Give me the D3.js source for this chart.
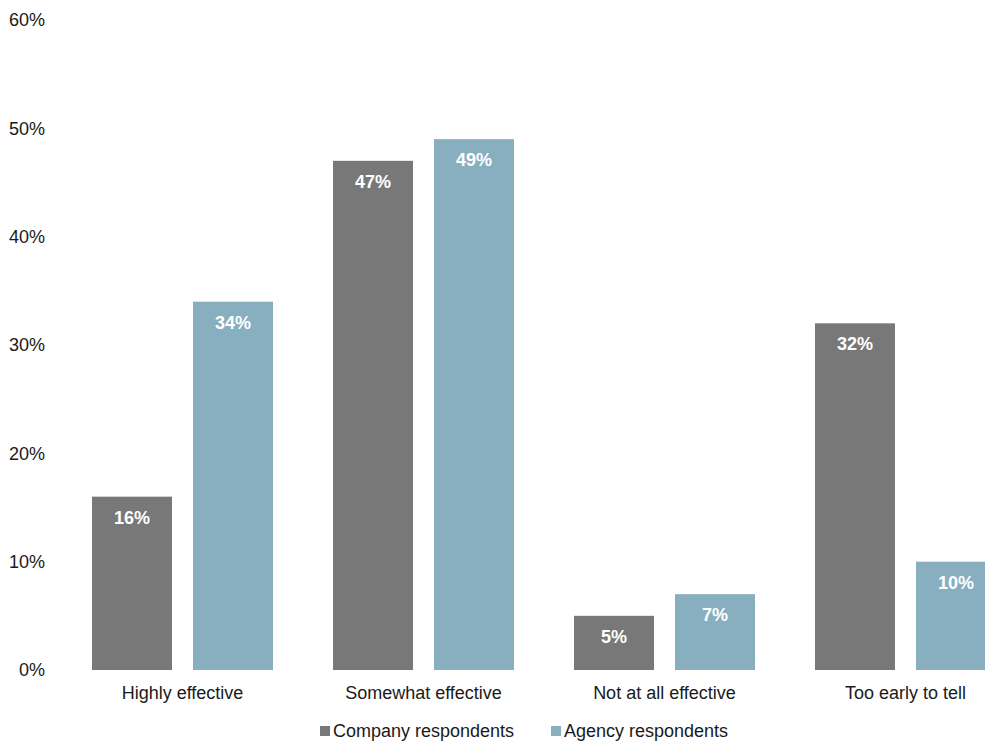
<!DOCTYPE html>
<html>
<head>
<meta charset="utf-8">
<script src="https://cdn.jsdelivr.net/npm/d3@7"></script>
<style>
  html, body { margin: 0; padding: 0; background: #fff; }
  svg { display: block; font-family: "Liberation Sans", Arial, sans-serif; }
</style>
</head>
<body>
<script>
// Survey answers: how effective was the effort, by respondent group
const categories = ["Highly effective", "Somewhat effective", "Not at all effective", "Too early to tell"];
const seriesNames = ["Company respondents", "Agency respondents"];
const companyValues = [16, 47, 5, 32];
const agencyValues = [34, 49, 7, 10];
const yTicks = [0, 10, 20, 30, 40, 50, 60];
const colors = ["#787878", "#87afc0"];

const W = 985, H = 742;
const svg = d3.select("body").append("svg").attr("width", W).attr("height", H);

// Category bands run past the right edge, so the last bar is cut off
const x = d3.scaleBand().domain(categories).range([62, 1026]);
const sub = d3.scaleBand().domain(seriesNames).range([30, x.bandwidth() - 30]).paddingInner(0.208);
const y = d3.scaleLinear().domain([0, 60]).range([670, 20]);

// Y axis labels
const yAxis = d3.axisLeft(y).tickValues(yTicks).tickFormat(d => d + "%").tickSize(0).tickPadding(0);
const gy = svg.append("g").attr("transform", "translate(45,0)").call(yAxis);
gy.select(".domain").remove();
gy.selectAll("text").attr("font-size", 18).attr("fill", "#1a1a1a")
  .attr("font-family", "Liberation Sans, Arial, sans-serif");

const rows = categories.map((c, i) => ({ cat: c, vals: [companyValues[i], agencyValues[i]] }));

const groups = svg.append("g").selectAll("g").data(rows).join("g")
  .attr("transform", d => `translate(${x(d.cat)},0)`);

groups.selectAll("rect").data(d => d.vals.map((v, j) => ({ v, j })))
  .join("rect")
  .attr("x", d => sub(seriesNames[d.j]))
  .attr("width", sub.bandwidth())
  .attr("y", d => y(d.v))
  .attr("height", d => y(0) - y(d.v))
  .attr("fill", d => colors[d.j]);

groups.selectAll("text.val").data(d => d.vals.map((v, j) => ({ v, j })))
  .join("text")
  .attr("class", "val")
  .attr("x", d => sub(seriesNames[d.j]) + sub.bandwidth() / 2)
  .attr("y", d => y(d.v) + 27)
  .attr("text-anchor", "middle")
  .attr("font-size", 18)
  .attr("font-weight", "bold")
  .attr("fill", "#fff")
  .text(d => d.v + "%");

// Category axis
const xAxis = d3.axisBottom(x).tickSize(0).tickPadding(0);
const gx = svg.append("g").attr("transform", "translate(0,699)").call(xAxis);
gx.select(".domain").remove();
gx.selectAll("text").attr("font-size", 18).attr("fill", "#1a1a1a").attr("dy", 0)
  .attr("font-family", "Liberation Sans, Arial, sans-serif");

// Legend
const legendX = [320, 551];
const lg = svg.append("g").selectAll("g").data(seriesNames).join("g")
  .attr("transform", (d, i) => `translate(${legendX[i]},726)`);
lg.append("rect").attr("width", 10).attr("height", 10).attr("fill", (d, i) => colors[i]);
lg.append("text").attr("x", 13).attr("y", 11).attr("font-size", 18).attr("fill", "#1a1a1a").text(d => d);
</script>
</body>
</html>
